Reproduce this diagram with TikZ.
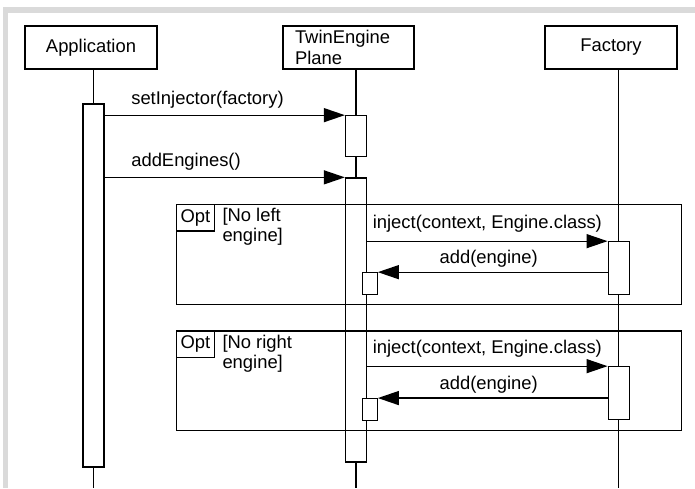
\documentclass[tikz,border=0pt]{standalone}
\usepackage{fontspec}
\setmainfont{Liberation Sans}
\usetikzlibrary{arrows.meta,positioning}
\definecolor{rim}{HTML}{DADADA}

\begin{document}
\begin{tikzpicture}[x=1pt,y=-1pt,>={Triangle[length=21pt,width=14pt]},font=\fontsize{18.4}{21}\selectfont]
  \tikzstyle{head}=[draw,line width=1.3pt,minimum height=43pt,inner sep=0pt]
  \tikzstyle{bar}=[draw,fill=white,line width=1.3pt,minimum width=21pt,inner sep=0pt]
  \tikzstyle{selfbar}=[draw,fill=white,line width=1.3pt,minimum width=15pt,minimum height=22pt,inner sep=0pt]
  \tikzstyle{life}=[line width=1.3pt]
  \tikzstyle{msg}=[line width=1.3pt,->]
  \tikzstyle{lbl}=[anchor=base,inner sep=0pt,yshift=11pt]
  \tikzstyle{frame}=[draw,line width=1.1pt,outer sep=0pt,inner sep=0pt,anchor=north west]
  \tikzstyle{tag}=[draw,line width=1.1pt,outer sep=0pt,minimum width=37.6pt,minimum height=26.7pt,inner sep=0pt,anchor=north west]
  \tikzstyle{cond}=[align=left,inner sep=0pt,anchor=north west,font=\fontsize{18.4}{20}\selectfont]

  \useasboundingbox (0,0) rectangle (695,488);
  \fill[rim] (3,7) rectangle (695,488);
  \fill[white] (8,13) rectangle (695,488);
  \coordinate (bottom) at (0,488);

  \node[head,minimum width=132pt] (app) at (91,47.5) {Application};
  \node[head,text width=107pt,align=left,inner xsep=12pt] (plane) at (348.5,47.5) {TwinEngine\\Plane};
  \node[head,minimum width=132pt] (fac) at (611,47.5) {Factory};

  \node[bar,minimum height=363pt] (appbar) at (93.5,285.5) {};
  \node[bar,minimum height=41pt] (plbar1) at (356,136.3) {};
  \node[bar,minimum height=284pt] (plbar2) at (356,320) {};
  \node[bar,minimum height=53pt] (fbar1) at (618.7,268.3) {};
  \node[bar,minimum height=53pt] (fbar2) at (618.7,393.3) {};
  \node[selfbar] (self1) at (369.7,283.8) {};
  \node[selfbar] (self2) at (369.7,409.7) {};

  \draw[life] (app.south -| appbar) -- (appbar.north);
  \draw[life] (appbar.south) -- (appbar |- bottom);
  \draw[life] (plane.south -| plbar1) -- (plbar1.north);
  \draw[life] (plbar1.south) -- (plbar2.north);
  \draw[life] (plbar2.south) -- (plbar2 |- bottom);
  \draw[life] (fac.south -| fbar1) -- (fbar1.north);
  \draw[life] (fbar1.south) -- (fbar2.north);
  \draw[life] (fbar2.south) -- (fbar2 |- bottom);

  \draw[msg] (appbar.east |- plbar1.north) -- node[pos=0,lbl,anchor=base west,xshift=26pt] {setInjector(factory)} (plbar1.north west);
  \draw[msg] (appbar.east |- plbar2.north) -- node[pos=0,lbl,anchor=base west,xshift=26pt] {addEngines()} (plbar2.north west);
  \draw[msg] (plbar2.east |- fbar1.north) -- node[midway,lbl,yshift=2pt] {inject(context, Engine.class)} (fbar1.north west);
  \draw[msg] (fbar1.west |- self1.north) -- node[midway,lbl,xshift=-4pt,yshift=-2pt] {add(engine)} (self1.north east);
  \draw[msg] (plbar2.east |- fbar2.north) -- node[midway,lbl,yshift=2pt] {inject(context, Engine.class)} (fbar2.north west);
  \draw[msg] (fbar2.west |- self2.north) -- node[midway,lbl,xshift=-4pt,yshift=-2pt] {add(engine)} (self2.north east);

  \node[frame,minimum width=505pt,minimum height=100pt] (opt1) at (176.7,204.3) {};
  \node[tag] (opt1tag) at (opt1.north west) {Opt};
  \node[cond] (opt1cond) at ([xshift=8pt,yshift=-4pt]opt1tag.north east) {[No left\\engine]};
  \node[frame,minimum width=505pt,minimum height=99.7pt] (opt2) at (176.7,331) {};
  \node[tag] (opt2tag) at (opt2.north west) {Opt};
  \node[cond] (opt2cond) at ([xshift=8pt,yshift=-4pt]opt2tag.north east) {[No right\\engine]};
\end{tikzpicture}
\end{document}
